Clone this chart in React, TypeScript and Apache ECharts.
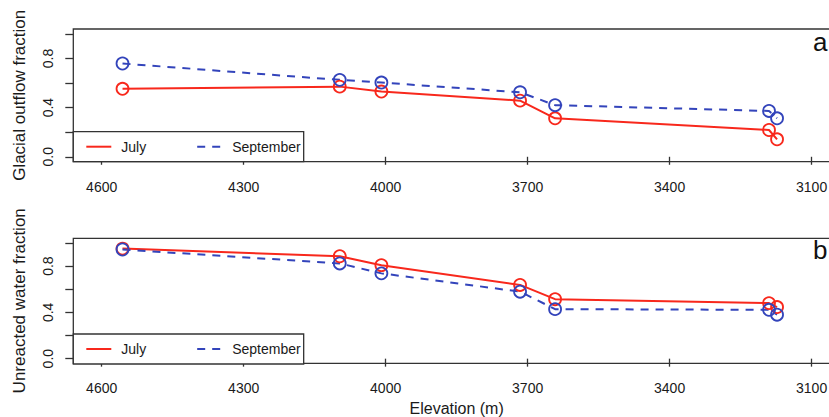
import React, { useEffect, useRef } from "react";
import * as echarts from "echarts";

const elevations = [4556, 4097, 4009, 3716, 3642, 3190, 3173];
const julyOutflow = [0.553, 0.571, 0.531, 0.457, 0.313, 0.218, 0.142];
const septemberOutflow = [0.759, 0.626, 0.604, 0.525, 0.42, 0.373, 0.313];
const julyUnreacted = [0.951, 0.885, 0.808, 0.637, 0.514, 0.48, 0.446];
const septemberUnreacted = [0.943, 0.823, 0.737, 0.579, 0.428, 0.422, 0.38];

const xTicks = [4600, 4300, 4000, 3700, 3400, 3100];
const yTicks = [0, 0.2, 0.4, 0.6, 0.8, 1.0];
const yLabelValues = [0, 0.4, 0.8];
const seriesNames = ["July", "September"];
const panelTitles = ["Glacial outflow fraction", "Unreacted water fraction"];
const panelLetters = ["a", "b"];
const xTitle = "Elevation (m)";

const RED = "#f8281c";
const BLUE = "#3344bb";
const INK = "#1a1a1a";
const FONT = "'Liberation Sans', Arial, sans-serif";

const grids = [
  { left: 73.3, top: 29, width: 766.7, height: 132.7 },
  { left: 73.3, top: 238.3, width: 766.7, height: 125 },
];

function pairs(vals: number[]) {
  return elevations.map((e, i) => [e, vals[i]]);
}

export default function App() {
  const ref = useRef<HTMLDivElement>(null);
  useEffect(() => {
    if (!ref.current) return;
    const chart = echarts.init(ref.current, undefined, { renderer: "svg" });

    const xAxis = grids.map((_, i) => ({
      type: "value",
      gridIndex: i,
      inverse: true,
      min: 3040,
      max: 4660,
      axisLine: { show: false },
      splitLine: { show: false },
      axisTick: {
        show: true,
        customValues: xTicks,
        length: 8,
        lineStyle: { color: "#333", width: 1.3 },
      },
      axisLabel: {
        customValues: xTicks,
        fontSize: 14,
        color: INK,
        fontFamily: FONT,
        margin: 18,
        formatter: (v: number) => String(v),
      },
      name: i === 1 ? xTitle : "",
      nameLocation: "middle",
      nameGap: 37,
      nameTextStyle: { fontSize: 16, color: INK, fontFamily: FONT },
    }));

    const yAxis = grids.map((_, i) => ({
      type: "value",
      gridIndex: i,
      min: -0.04,
      max: 1.04,
      axisLine: { show: false },
      splitLine: { show: false },
      axisTick: {
        show: true,
        customValues: yTicks,
        length: 8,
        lineStyle: { color: "#333", width: 1.3 },
      },
      axisLabel: {
        customValues: yLabelValues,
        rotate: 90,
        fontSize: 14,
        color: INK,
        fontFamily: FONT,
        margin: 18,
        formatter: (v: number) => v.toFixed(1),
      },
      name: panelTitles[i],
      nameLocation: "middle",
      nameGap: 45,
      nameTextStyle: { fontSize: 17, color: INK, fontFamily: FONT },
    }));

    const mkSeries = (name: string, vals: number[], idx: number, color: string, dashed: boolean) => ({
      type: "line",
      name,
      xAxisIndex: idx,
      yAxisIndex: idx,
      data: pairs(vals),
      symbol: "circle",
      symbolSize: 12,
      showSymbol: true,
      lineStyle: { color, width: 2, type: dashed ? [8, 7] : "solid" },
      itemStyle: { color: "transparent", borderColor: color, borderWidth: 1.8 },
      emphasis: { disabled: true },
    });

    const series = [
      mkSeries(seriesNames[0], julyOutflow, 0, RED, false),
      mkSeries(seriesNames[1], septemberOutflow, 0, BLUE, true),
      mkSeries(seriesNames[0], julyUnreacted, 1, RED, false),
      mkSeries(seriesNames[1], septemberUnreacted, 1, BLUE, true),
    ];

    const legendTops = [131.7, 334];
    const legend = legendTops.map((top) => ({
      left: 73.3,
      top,
      orient: "horizontal",
      data: seriesNames,
      selectedMode: false,
      itemWidth: 25,
      itemHeight: 14,
      itemGap: 50,
      padding: [7, 3, 7, 12],
      borderColor: "#333",
      borderWidth: 1.3,
      backgroundColor: "#fff",
      itemStyle: { opacity: 0 },
      textStyle: {
        fontSize: 14,
        color: INK,
        fontFamily: FONT,
        lineHeight: 16,
        padding: [0, 0, 0, 5],
      },
    }));

    chart.setOption({
      animation: false,
      backgroundColor: "#fff",
      grid: grids.map((g) => ({
        ...g,
        show: true,
        outerBoundsMode: "none",
        containLabel: false,
        borderColor: "#333",
        borderWidth: 1.3,
        backgroundColor: "transparent",
      })),
      xAxis,
      yAxis,
      legend,
      series,
      graphic: [
        { type: "text", left: 813, top: 29, style: { text: panelLetters[0], fontSize: 26, fill: "#111", fontFamily: FONT } },
        { type: "text", left: 813, top: 237, style: { text: panelLetters[1], fontSize: 26, fill: "#111", fontFamily: FONT } },
      ],
    });
    return () => chart.dispose();
  }, []);

  return (
    <div
      ref={ref}
      style={{ position: "fixed", left: 0, top: 0, width: 829, height: 417 }}
    />
  );
}
